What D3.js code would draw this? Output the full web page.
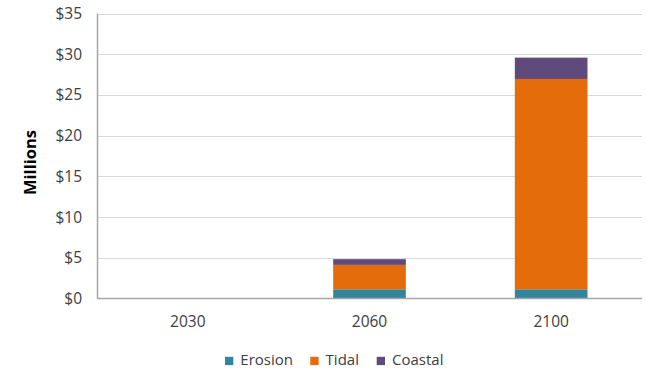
<!DOCTYPE html>
<html>
<head>
<meta charset="utf-8">
<script src="https://cdn.jsdelivr.net/npm/d3@7"></script>
<style>
  html, body { margin: 0; padding: 0; background: #fff; }
  svg { display: block; font-family: "Open Sans", "Liberation Sans", sans-serif; }
</style>
</head>
<body>
<svg id="chart" width="646" height="370"></svg>
<script>
// Projected damages by scenario year (millions of dollars)
const years = ["2030", "2060", "2100"];
const seriesNames = ["Erosion", "Tidal", "Coastal"];
const erosion = [0, 1.13, 1.13];
const tidal = [0, 3.0, 25.83];
const coastal = [0, 0.7, 2.62];
const yTicks = [0, 5, 10, 15, 20, 25, 30, 35];
const colors = ["#31859c", "#e46c0a", "#604a7b"];

const rows = years.map((y, i) => ({ year: y, Erosion: erosion[i], Tidal: tidal[i], Coastal: coastal[i] }));
const stacked = d3.stack().keys(seriesNames)(rows);

const svg = d3.select("#chart");
const plotLeft = 97, plotRight = 642, plotTop = 13.5, plotBottom = 298.5;
const labelFont = "'Open Sans', 'Liberation Sans', sans-serif";
const labelSize = 15.5;
const labelColor = "#404040";

const x = d3.scaleBand().domain(years).range([plotLeft, plotRight]).paddingInner(0.6).paddingOuter(0.3);
const y = d3.scaleLinear().domain([0, 35]).range([plotBottom, plotTop]);
const color = d3.scaleOrdinal().domain(seriesNames).range(colors);

// Horizontal gridlines
svg.append("g")
  .selectAll("line")
  .data(yTicks.filter(t => t > 0))
  .join("line")
  .attr("x1", plotLeft).attr("x2", plotRight)
  .attr("y1", d => Math.round(y(d)) + 0.5).attr("y2", d => Math.round(y(d)) + 0.5)
  .attr("stroke", "#d9d9d9").attr("stroke-width", 1);

// Y axis labels
const yAxis = d3.axisLeft(y).tickValues(yTicks).tickFormat(d => "$" + d).tickSize(0).tickPadding(15);
const gy = svg.append("g").attr("transform", `translate(${plotLeft},0)`).call(yAxis);
gy.select(".domain").remove();
gy.selectAll("text").attr("font-size", labelSize).attr("fill", labelColor).attr("font-family", labelFont);

// Stacked bars
svg.append("g")
  .selectAll("g")
  .data(stacked)
  .join("g")
  .attr("fill", d => color(d.key))
  .selectAll("rect")
  .data(d => d)
  .join("rect")
  .attr("x", d => x(d.data.year))
  .attr("width", x.bandwidth())
  .attr("y", d => y(d[1]))
  .attr("height", d => y(d[0]) - y(d[1]));

// Axis lines
svg.append("line")
  .attr("x1", plotLeft + 0.5).attr("x2", plotLeft + 0.5)
  .attr("y1", plotTop).attr("y2", plotBottom)
  .attr("stroke", "#a6a6a6").attr("stroke-width", 1.5);
svg.append("line")
  .attr("x1", plotLeft).attr("x2", plotRight)
  .attr("y1", plotBottom).attr("y2", plotBottom)
  .attr("stroke", "#a6a6a6").attr("stroke-width", 1.5);

// X axis labels
const xAxis = d3.axisBottom(x).tickSize(0).tickPadding(17);
const gx = svg.append("g").attr("transform", `translate(0,${plotBottom})`).call(xAxis);
gx.select(".domain").remove();
gx.selectAll("text").attr("font-size", labelSize).attr("fill", labelColor).attr("font-family", labelFont);

// Y axis title
svg.append("text")
  .attr("transform", "translate(30,162.5) rotate(-90)")
  .attr("text-anchor", "middle")
  .attr("dy", "0.35em")
  .attr("font-size", 16.5).attr("font-weight", "bold").attr("fill", "#000")
  .text("Millions");

// Legend
const legendX = [225, 310.3, 376.7];
const legend = svg.append("g")
  .selectAll("g")
  .data(seriesNames)
  .join("g")
  .attr("transform", (d, i) => `translate(${legendX[i]},356.8)`);
legend.append("rect").attr("width", 8.3).attr("height", 8.3).attr("fill", d => color(d));
legend.append("text")
  .attr("x", 15.3).attr("y", 8.3)
  .attr("font-size", 15).attr("fill", labelColor).attr("font-family", labelFont)
  .text(d => d);
</script>
</body>
</html>
